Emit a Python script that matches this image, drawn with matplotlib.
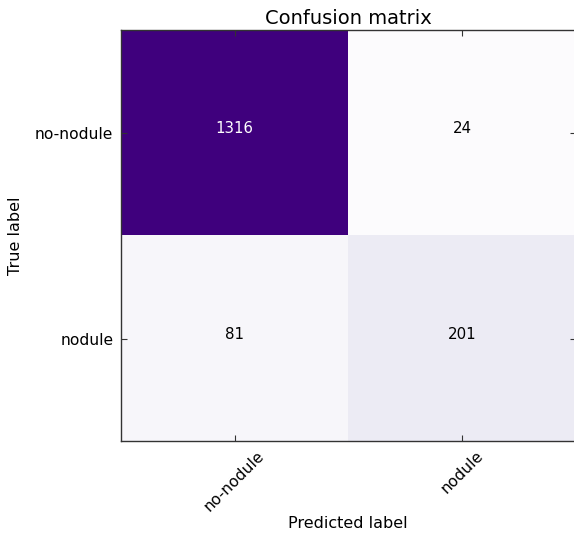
import numpy as np
import matplotlib
matplotlib.use('Agg')
import matplotlib.pyplot as plt

# 混淆矩阵数据
classes = ['no-nodule', 'nodule']
row_no_nodule = [1316, 24]
row_nodule = [81, 201]
cm = np.array([row_no_nodule, row_nodule])

plt.rcParams['font.family'] = ['DejaVu Sans']

fig = plt.figure(figsize=(5.74, 5.33), dpi=100)
ax = fig.add_axes([0.2108, 0.1719, 0.792, 0.7719])

ax.imshow(cm, interpolation='nearest', cmap=plt.cm.Purples, aspect='auto')
ax.set_title('Confusion matrix', fontsize=14, pad=4)

tick_marks = np.arange(len(classes))
ax.set_xticks(tick_marks)
ax.set_xticklabels(classes, rotation=45, fontsize=11.2)
ax.set_yticks(tick_marks)
ax.set_yticklabels(classes, fontsize=11.2)

# 单元格数值
thresh = cm.max() / 2.
for i in range(cm.shape[0]):
    for j in range(cm.shape[1]):
        ax.text(j, i, format(cm[i, j], 'd'),
                horizontalalignment='center', fontsize=10.8,
                color='white' if cm[i, j] > thresh else 'black')

ax.set_ylabel('True label', fontsize=11.5)
ax.set_xlabel('Predicted label', fontsize=11.5)
ax.xaxis.set_label_coords(0.5, -0.2008)
ax.yaxis.set_label_coords(-0.231, 0.5)
ax.xaxis.label.set_va('center')
ax.yaxis.label.set_va('center')

ax.tick_params(direction='in', length=4, width=0.8, top=True, right=True, color='#333333')
ax.tick_params(axis='x', pad=5)
ax.tick_params(axis='y', pad=5.5)
for s in ax.spines.values():
    s.set_color('#333333')
    s.set_linewidth(1.0)

fig.savefig('out.png', dpi=100)
